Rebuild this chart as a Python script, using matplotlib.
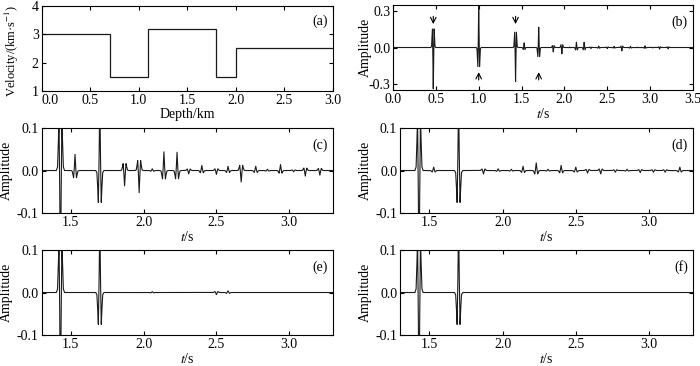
import numpy as np
import matplotlib
matplotlib.use('Agg')
import matplotlib.pyplot as plt
from matplotlib.ticker import FormatStrFormatter

plt.rcParams['font.family'] = ['Liberation Serif', 'DejaVu Serif']
plt.rcParams['mathtext.fontset'] = 'stix'
plt.rcParams['axes.unicode_minus'] = False
plt.rcParams['font.size'] = 10

# velocity model, panel (a)
depth_edges = [0.0, 0.7, 1.1, 1.8, 2.0, 3.0]
layer_velocity = [3.0, 1.5, 3.2, 1.5, 2.5]

# reflection events: arrival times (s) and amplitudes per trace
event_times = [0.47, 1.00, 1.43, 1.53, 1.70, 1.87, 1.97, 2.06, 2.14, 2.23, 2.31,
               2.40, 2.50, 2.58, 2.67, 2.77, 2.85, 2.94, 3.03, 3.11, 3.21]
amp_full = [-0.34, 0.35, -0.28, 0.038, 0.167, -0.036, -0.052, 0.004, 0.044, 0.043, -0.008,
            0.012, -0.009, 0.010, -0.027, 0.010, 0.003, 0.014, -0.003, -0.013, -0.011]
amp_d = [-0.34, 0.35, -0.28, 0.008, 0.167, -0.008, 0.004, 0.003, 0.010, 0.018, 0.003,
         0.012, 0.008, -0.006, -0.008, -0.004, 0.003, -0.005, -0.004, -0.004, 0.008]
amp_e = [-0.34, 0.35, -0.28, 0.0, 0.167, 0.0, 0.0, 0.002, 0.0, 0.0, 0.0,
         0.0, -0.005, 0.004, 0.0, 0.0, 0.0, 0.0, 0.0, 0.0, 0.0]
amp_f = [-0.34, 0.35, -0.28, 0.0, 0.167, 0.0, 0.0, 0.0, 0.0, 0.0, 0.0,
         0.0, 0.0, 0.0, 0.0, 0.0, 0.0, 0.0, 0.0, 0.0, 0.0]

# wavelet shape (offset in s, relative amplitude)
wavelet_offsets = [-0.028, -0.02, -0.014, -0.01, -0.005, 0.0, 0.005, 0.01, 0.014, 0.02, 0.028]
wavelet_shape = [0.0, -0.03, -0.26, -0.45, 0.17, 1.0, 0.17, -0.45, -0.26, -0.03, 0.0]

record_start, record_end = 0.0, 3.5

# arrows marking events in (b)
arrow_down_times = [0.47, 1.43]
arrow_up_times = [1.00, 1.70]

trace_color = '#1a1a1a'


def build_trace(times, amps):
    xs = [record_start]
    ys = [0.0]
    for t, a in zip(times, amps):
        xs.extend(t + np.array(wavelet_offsets))
        ys.extend(a * np.array(wavelet_shape))
    xs.append(record_end)
    ys.append(0.0)
    return np.array(xs), np.array(ys)


def style(ax):
    ax.tick_params(direction='in', top=True, right=True, length=3, width=0.8, pad=2)
    for s in ax.spines.values():
        s.set_linewidth(0.8)


fig = plt.figure(figsize=(7, 3.66), dpi=100)

# (a) velocity model
ax = fig.add_axes([0.0593, 0.7514, 0.4164, 0.2322])
ax.stairs(layer_velocity, depth_edges, baseline=None, color=trace_color, lw=0.9)
ax.set_xlim(0, 3)
ax.set_ylim(1, 4)
ax.set_xticks(np.arange(0, 3.01, 0.5))
ax.set_yticks([1, 2, 3, 4])
ax.xaxis.set_major_formatter(FormatStrFormatter('%.1f'))
ax.set_xlabel('Depth/km', labelpad=1)
ax.set_ylabel('Velocity/(km·s$^{-1}$)', fontsize=9)
ax.yaxis.set_label_coords(-0.072, 0.47)
ax.text(0.983, 0.815, '(a)', transform=ax.transAxes, ha='right', va='center')
style(ax)
ax.get_xticklabels()[0].set_horizontalalignment('left')

# (b) full trace
ax = fig.add_axes([0.5614, 0.7541, 0.4286, 0.2322])
x, y = build_trace(event_times, amp_full)
ax.plot(x, y, color=trace_color, lw=0.8)
ax.set_xlim(0, 3.5)
ax.set_ylim(-0.35, 0.35)
ax.set_xticks(np.arange(0, 3.51, 0.5))
ax.set_yticks([-0.3, 0.0, 0.3])
ax.xaxis.set_major_formatter(FormatStrFormatter('%.1f'))
ax.yaxis.set_major_formatter(FormatStrFormatter('%.1f'))
for t in arrow_down_times:
    ax.annotate('', xy=(t, 0.17), xytext=(t, 0.28),
                arrowprops=dict(arrowstyle='->', color='k', lw=0.8))
for t in arrow_up_times:
    ax.annotate('', xy=(t, -0.18), xytext=(t, -0.29),
                arrowprops=dict(arrowstyle='->', color='k', lw=0.8))
ax.set_xlabel('$t$/s', labelpad=1)
ax.set_ylabel('Amplitude')
ax.yaxis.set_label_coords(-0.07, 0.5)
ax.text(0.983, 0.80, '(b)', transform=ax.transAxes, ha='right', va='center')
style(ax)

# (c)-(f) zoomed traces
panels = [('(c)', amp_full, [0.0593, 0.418, 0.4164, 0.2322]),
          ('(d)', amp_d, [0.5714, 0.418, 0.4186, 0.2322]),
          ('(e)', amp_e, [0.0593, 0.0847, 0.4164, 0.2322]),
          ('(f)', amp_f, [0.5714, 0.0847, 0.4186, 0.2322])]

for label, amps, rect in panels:
    ax = fig.add_axes(rect)
    x, y = build_trace(event_times, amps)
    ax.plot(x, y, color=trace_color, lw=0.8)
    ax.set_xlim(1.3, 3.3)
    ax.set_ylim(-0.1, 0.1)
    ax.set_xticks([1.5, 2.0, 2.5, 3.0])
    ax.set_yticks([-0.1, 0.0, 0.1])
    ax.xaxis.set_major_formatter(FormatStrFormatter('%.1f'))
    ax.yaxis.set_major_formatter(FormatStrFormatter('%.1f'))
    ax.set_xlabel('$t$/s', labelpad=1)
    ax.set_ylabel('Amplitude')
    ax.yaxis.set_label_coords(-0.097, 0.5)
    ax.text(0.983, 0.80, label, transform=ax.transAxes, ha='right', va='center')
    style(ax)

fig.savefig('out.png', dpi=100)
